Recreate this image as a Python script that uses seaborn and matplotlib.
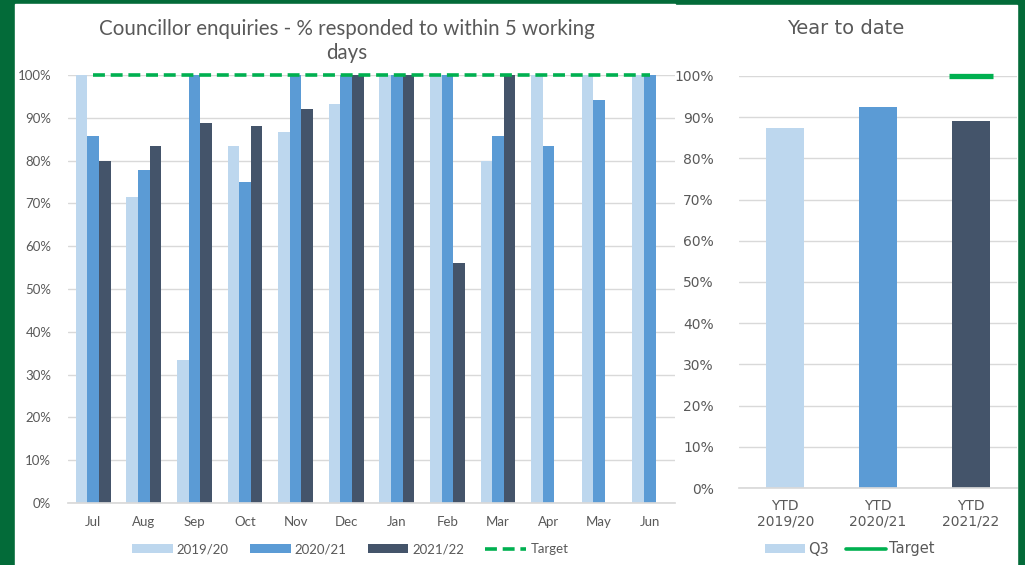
import matplotlib
matplotlib.use("Agg")
import numpy as np
import pandas as pd
import seaborn as sns
import matplotlib.pyplot as plt
from matplotlib.patches import Rectangle, Patch
from matplotlib.lines import Line2D

# ---------------- data ----------------
months = ["Jul", "Aug", "Sep", "Oct", "Nov", "Dec", "Jan", "Feb", "Mar", "Apr", "May", "Jun"]
years = ["2019/20", "2020/21", "2021/22"]
v_1920 = [100, 71.4, 33.3, 83.3, 86.7, 93.3, 100, 100, 80.0, 100, 100, 100]
v_2021 = [85.7, 77.8, 100, 75.0, 100, 100, 100, 100, 85.7, 83.3, 94.1, 100]
v_2122 = [80.0, 83.3, 88.9, 88.0, 92.0, 100, 100, 56.0, 100, np.nan, np.nan, np.nan]
target = [100] * 12

ytd_labels = ["YTD\n2019/20", "YTD\n2020/21", "YTD\n2021/22"]
ytd_values = [87.4, 92.5, 89.1]
ytd_target = [np.nan, np.nan, 100]

left_title = "Councillor enquiries - % responded to within 5 working\ndays"
right_title = "Year to date"
yticks = list(range(0, 101, 10))
ytick_labels = [f"{t}%" for t in yticks]

# ---------------- style ----------------
colors = ["#BDD7EE", "#5B9BD5", "#44546A"]
green = "#00B050"
bg_green = "#036B39"
txt = "#595959"
grid_c = "#D9D9D9"

sns.set_theme(style="white")
plt.rcParams["font.family"] = ["Lato", "DejaVu Sans"]

W, H = 1025, 565
fig = plt.figure(figsize=(W / 100, H / 100), dpi=100, facecolor=bg_green)
fig.patches.append(Rectangle((15 / W, 0), (675 - 15) / W, (H - 4) / H,
                             transform=fig.transFigure, facecolor="white", zorder=-10))
fig.patches.append(Rectangle((675 / W, 0), (1017 - 675) / W, (H - 5) / H,
                             transform=fig.transFigure, facecolor="white", zorder=-10))

# ---------------- left chart ----------------
df = pd.DataFrame({
    "month": months * 3,
    "year": [y for y in years for _ in months],
    "value": v_1920 + v_2021 + v_2122,
}).dropna()

ax1 = fig.add_axes([68 / W, (H - 503) / H, (675 - 68) / W, (503 - 75) / H])
ax1.set_facecolor("none")
sns.barplot(data=df, x="month", y="value", hue="year", order=months, hue_order=years,
            palette=colors, width=0.69, saturation=1, linewidth=0, legend=False, ax=ax1)
ax1.plot(range(len(months)), target, color=green, lw=2.6, ls=(0, (3.3, 1.6)),
         clip_on=False, zorder=5)
ax1.set_xlim(-0.5, len(months) - 0.5)
ax1.set_ylim(0, 100)
ax1.set_yticks(yticks)
ax1.set_yticklabels(ytick_labels)
ax1.yaxis.grid(True, color=grid_c, lw=1)
ax1.set_axisbelow(True)
for s in ["top", "right", "left"]:
    ax1.spines[s].set_visible(False)
ax1.spines["bottom"].set_color(grid_c)
ax1.tick_params(axis="both", length=0, labelsize=9.5, colors=txt)
ax1.tick_params(axis="x", pad=9)
ax1.tick_params(axis="y", pad=12)
ax1.set_xlabel("")
ax1.set_ylabel("")

fig.text(347 / W, 1 - 41 / H, left_title, ha="center", va="center", fontsize=14.8,
         color=txt, linespacing=1.3)

h1 = [Patch(facecolor=c, edgecolor="none") for c in colors] + \
     [Line2D([], [], color=green, lw=2.6, ls=(0, (3.3, 1.6)))]
fig.legend(h1, years + ["Target"], loc="center", bbox_to_anchor=(350 / W, 1 - 549 / H),
           ncol=4, frameon=False, fontsize=9.5, labelcolor=txt, handlelength=3.1,
           handleheight=0.6, columnspacing=1.6, handletextpad=0.3)

# ---------------- right chart ----------------
ax2 = fig.add_axes([739 / W, (H - 488) / H, (1017 - 739) / W, (488 - 76) / H])
ax2.set_facecolor("none")
sns.barplot(x=ytd_labels, y=ytd_values, hue=ytd_labels, palette=colors, width=0.41,
            saturation=1, linewidth=0, legend=False, ax=ax2)
ax2.plot(range(len(ytd_labels)), ytd_target, ls="none", marker="_", markersize=31,
         mew=3.8, color=green, clip_on=False, zorder=5)
ax2.set_xlim(-0.5, len(ytd_labels) - 0.5)
ax2.set_ylim(0, 100)
ax2.set_yticks(yticks)
ax2.set_yticklabels(ytick_labels, family="DejaVu Sans")
ax2.yaxis.grid(True, color=grid_c, lw=1)
ax2.set_axisbelow(True)
for s in ["top", "right", "left"]:
    ax2.spines[s].set_visible(False)
ax2.spines["bottom"].set_color(grid_c)
ax2.tick_params(axis="both", length=0, labelsize=10, colors=txt)
ax2.tick_params(axis="x", pad=8)
ax2.tick_params(axis="y", pad=18)
for lab in ax2.get_xticklabels():
    lab.set_family("DejaVu Sans")
    lab.set_linespacing(1.1)
ax2.set_xlabel("")
ax2.set_ylabel("")

fig.text(846 / W, 1 - 29 / H, right_title, ha="center", va="center", fontsize=14,
         color=txt, family="DejaVu Sans")

h2 = [Patch(facecolor=colors[0], edgecolor="none"), Line2D([], [], color=green, lw=2.6)]
fig.legend(h2, ["Q3", "Target"], loc="center", bbox_to_anchor=(850 / W, 1 - 549 / H),
           ncol=2, frameon=False, labelcolor=txt, handlelength=2.75,
           handleheight=0.6, columnspacing=1.2, handletextpad=0.2,
           prop={"family": "DejaVu Sans", "size": 10.5})

fig.savefig("out.png", dpi=100, facecolor=fig.get_facecolor())
